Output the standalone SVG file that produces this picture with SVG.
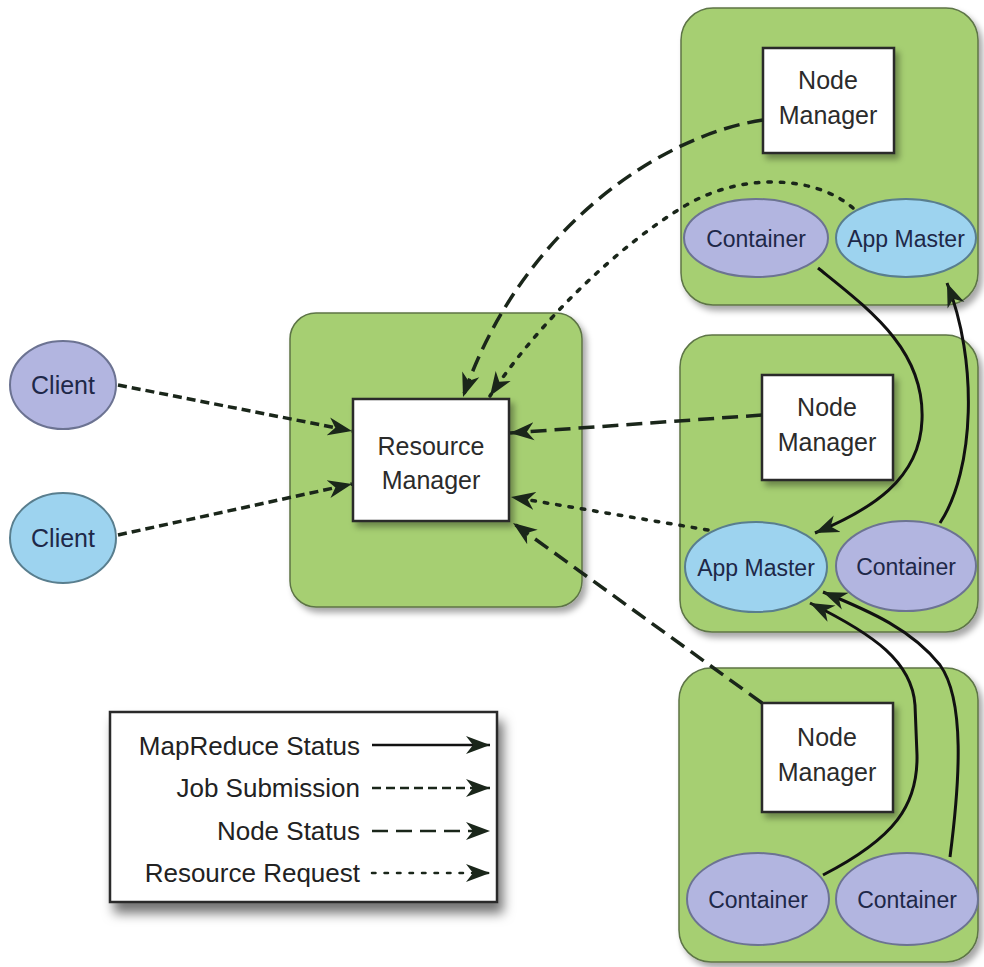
<svg xmlns="http://www.w3.org/2000/svg" width="984" height="967" viewBox="0 0 984 967">
<defs>
<filter id="sh" x="-10%" y="-10%" width="130%" height="130%">
<feDropShadow dx="4" dy="5" stdDeviation="3" flood-color="#000" flood-opacity="0.35"/>
</filter>
<filter id="sh2" x="-10%" y="-10%" width="130%" height="140%">
<feDropShadow dx="5" dy="10" stdDeviation="6" flood-color="#000" flood-opacity="0.55"/>
</filter>
<marker id="ah" markerUnits="userSpaceOnUse" markerWidth="26" markerHeight="20" viewBox="0 0 26 20" refX="24" refY="10" orient="auto">
<path d="M0,1 L24,10 L0,19 L7,10 Z" fill="#1a261a"/>
</marker>
<style>
.grn{fill:#a6cf72;stroke:#5d7446;stroke-width:1.5;filter:url(#sh)}
.box{fill:#fff;stroke:#2a2a2a;stroke-width:2.5;filter:url(#sh)}
.pur{fill:#b2b5e0;stroke:#6c7392;stroke-width:2}
.blu{fill:#9dd3ef;stroke:#597e8e;stroke-width:2}
.bt{font-family:"Liberation Sans",Arial,sans-serif;font-size:25px;fill:#2b2b2b;text-anchor:middle}
.et{font-family:"Liberation Sans",Arial,sans-serif;font-size:23px;fill:#1e2848;text-anchor:middle}
.lt{font-family:"Liberation Sans",Arial,sans-serif;font-size:26px;fill:#222;text-anchor:end}
.c{fill:none;stroke:#1a261a;stroke-width:3.5;marker-end:url(#ah)}
.solid{stroke:#111;stroke-width:3}
.job{stroke-dasharray:9 5}
.ns{stroke-dasharray:16 8}
.rr{stroke-dasharray:3.5 9;stroke-linecap:round}
.lg{stroke-width:2.5}
</style>
</defs>
<rect width="984" height="967" fill="#fff"/>

<g id="rm-host">
<rect class="grn" x="290" y="313" width="292" height="294" rx="26"/>
</g>
<g id="node1">
<rect class="grn" x="681" y="8" width="297" height="297" rx="32"/>
</g>
<g id="node2">
<rect class="grn" x="680" y="335" width="298" height="297" rx="32"/>
</g>
<g id="node3">
<rect class="grn" x="679" y="668" width="299" height="294" rx="32"/>
</g>

<g id="resource-manager">
<rect class="box" x="353" y="399" width="156" height="122"/>
<text class="bt" x="431" y="455">Resource</text>
<text class="bt" x="431" y="489">Manager</text>
</g>

<g id="client1">
<ellipse class="pur" cx="63" cy="385" rx="53" ry="44"/>
<text class="et" x="63" y="394" style="font-size:25px">Client</text>
</g>
<g id="client2">
<ellipse class="blu" cx="63" cy="538" rx="53" ry="45"/>
<text class="et" x="63" y="547" style="font-size:25px">Client</text>
</g>

<g id="nm1">
<rect class="box" x="763" y="48" width="131" height="105"/>
<text class="bt" x="828" y="89">Node</text>
<text class="bt" x="828" y="124">Manager</text>
</g>
<g id="container1">
<ellipse class="pur" cx="756" cy="238" rx="72" ry="39"/>
<text class="et" x="756" y="247">Container</text>
</g>
<g id="appmaster1">
<ellipse class="blu" cx="906" cy="238" rx="70" ry="39"/>
<text class="et" x="906" y="247">App Master</text>
</g>

<g id="nm2">
<rect class="box" x="762" y="375" width="131" height="105"/>
<text class="bt" x="827" y="416">Node</text>
<text class="bt" x="827" y="451">Manager</text>
</g>
<g id="appmaster2">
<ellipse class="blu" cx="756" cy="567" rx="71" ry="45"/>
<text class="et" x="756" y="576">App Master</text>
</g>
<g id="container2">
<ellipse class="pur" cx="906" cy="566" rx="70" ry="45"/>
<text class="et" x="906" y="575">Container</text>
</g>

<g id="nm3">
<rect class="box" x="762" y="703" width="131" height="109"/>
<text class="bt" x="827" y="746">Node</text>
<text class="bt" x="827" y="781">Manager</text>
</g>
<g id="container3">
<ellipse class="pur" cx="758" cy="899" rx="71" ry="46"/>
<text class="et" x="758" y="908">Container</text>
</g>
<g id="container4">
<ellipse class="pur" cx="907" cy="899" rx="71" ry="46"/>
<text class="et" x="907" y="908">Container</text>
</g>

<g id="connectors">
<path class="c job" d="M118,385 L352,431"/>
<path class="c job" d="M118,535 L352,484"/>
<path class="c ns" d="M763,120 C660,135 520,230 463,397"/>
<path class="c rr" d="M853,208 C815,175 740,172 683,207 C620,245 540,320 490,396"/>
<path class="c ns" d="M762,415 L510,433"/>
<path class="c rr" d="M708,530 L511,497"/>
<path class="c ns" d="M762,703 L513,523"/>
<path class="c solid" d="M818,268 C870,310 925,350 922,420 C920,480 870,510 815,533"/>
<path class="c solid" d="M940,523 C975,470 978,360 947,283"/>
<path class="c solid" d="M823,875 C895,838 918,805 917,755 L915,705 C912,662 875,635 810,603"/>
<path class="c solid" d="M950,857 C960,780 965,700 940,665 C912,630 872,612 823,592"/>
</g>

<g id="legend">
<rect x="110" y="712" width="387" height="190" fill="#fff" stroke="#2a2a2a" stroke-width="2.5" filter="url(#sh2)"/>
<text class="lt" x="360" y="755">MapReduce Status</text>
<text class="lt" x="360" y="797">Job Submission</text>
<text class="lt" x="360" y="840">Node Status</text>
<text class="lt" x="360" y="882">Resource Request</text>
<path class="c solid lg" d="M372,745 L490,745"/>
<path class="c job lg" d="M372,788 L490,788"/>
<path class="c ns lg" d="M372,831 L490,831"/>
<path class="c rr lg" d="M372,873 L490,873"/>
</g>
</svg>
